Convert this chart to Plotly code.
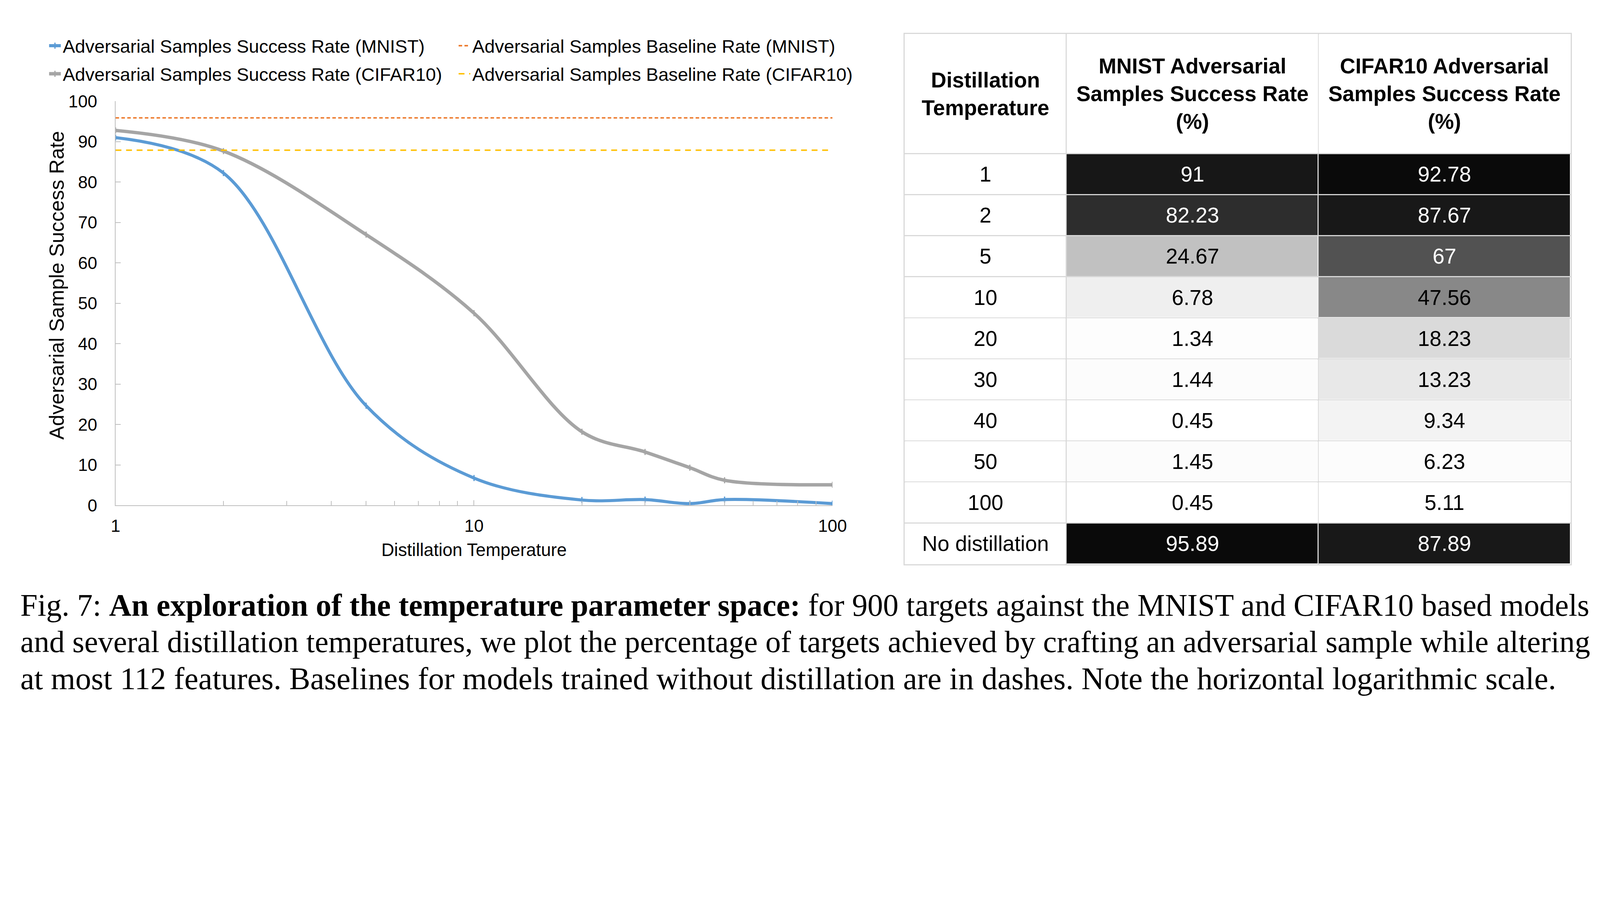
import plotly.graph_objects as go
import numpy as np

temperatures = [1, 2, 5, 10, 20, 30, 40, 50, 100]
mnist_rate = [91, 82.23, 24.67, 6.78, 1.34, 1.44, 0.45, 1.45, 0.45]
cifar_rate = [92.78, 87.67, 67, 47.56, 18.23, 13.23, 9.34, 6.23, 5.11]
mnist_baseline = 95.89
cifar_baseline = 87.89

series_names = [
    "Adversarial Samples Success Rate (MNIST)",
    "Adversarial Samples Baseline Rate (MNIST)",
    "Adversarial Samples Success Rate (CIFAR10)",
    "Adversarial Samples Baseline Rate (CIFAR10)",
]
table_header = [
    ["Distillation", "Temperature"],
    ["MNIST Adversarial", "Samples Success Rate", "(%)"],
    ["CIFAR10 Adversarial", "Samples Success Rate", "(%)"],
]
row_labels = [str(t) for t in temperatures] + ["No distillation"]

caption_lines = [
    "Fig. 7: <b>An exploration of the temperature parameter space:</b> for 900 targets against the MNIST and CIFAR10 based models",
    "and several distillation temperatures, we plot the percentage of targets achieved by crafting an adversarial sample while altering",
    "at most 112 features. Baselines for models trained without distillation are in dashes. Note the horizontal logarithmic scale.",
]

# the page is shot at ~1.263 device px per css px; positions below are
# measured on the screenshot and mapped back to css px of the figure
S = 1 / 1.263
FW, FH = 4120, 1820


def fx(r):
    return r * S - 18.6


def fy(r):
    return r * 0.8032 - 30.3


def xf(r):
    return fx(r) / FW


def yf(r):
    return 1 - fy(r) / FH


def fs(r):
    return round(r * S, 1)


BLUE, GREY, ORANGE, YELLOW = "#5B9BD5", "#A5A5A5", "#ED7D31", "#FFC000"
AXIS = "#BFBFBF"
GRID = "#D9D9D9"
SANS = "Arial, Liberation Sans, sans-serif"
SERIF = "Times New Roman, Liberation Serif, serif"

fig = go.Figure()

# line chart, one legend box per entry (2 x 2 grid like the original)
fig.add_trace(go.Scatter(
    x=temperatures, y=mnist_rate, mode="lines+markers", name=series_names[0],
    line=dict(color=BLUE, width=fs(10), shape="spline"),
    marker=dict(symbol="line-ns", size=fs(14), line=dict(color=BLUE, width=fs(4))),
    legend="legend", showlegend=True, hoverinfo="skip"))
fig.add_trace(go.Scatter(
    x=[temperatures[0], temperatures[-1]], y=[mnist_baseline] * 2, mode="lines",
    name=series_names[1], line=dict(color=ORANGE, width=fs(4.8), dash="9px,6px"),
    legend="legend2", hoverinfo="skip"))
fig.add_trace(go.Scatter(
    x=temperatures, y=cifar_rate, mode="lines+markers", name=series_names[2],
    line=dict(color=GREY, width=fs(11), shape="spline"),
    marker=dict(symbol="line-ns", size=fs(14), line=dict(color=GREY, width=fs(4))),
    legend="legend3", hoverinfo="skip"))
fig.add_trace(go.Scatter(
    x=[temperatures[0], temperatures[-1]], y=[cifar_baseline] * 2, mode="lines",
    name=series_names[3], line=dict(color=YELLOW, width=fs(4.8), dash="15px,12px"),
    legend="legend4", hoverinfo="skip"))

# table drawn as a grey-scale heatmap, shade normalised per column
mnist_col = mnist_rate + [mnist_baseline]
cifar_col = cifar_rate + [cifar_baseline]


def shade(vals):
    lo, hi = min(vals), max(vals)
    return [(v - lo) / (hi - lo) for v in vals]


z = [[0, 0, 0]] + [[0, a, b] for a, b in zip(shade(mnist_col), shade(cifar_col))]
text = [["<br>".join("<b>%s</b>" % s for s in h) for h in table_header]]
text += [[lab, f"{a:g}", f"{b:g}"] for lab, a, b in zip(row_labels, mnist_col, cifar_col)]

col_edges = np.cumsum([0, 529, 825, 825])
row_edges = np.cumsum([0, 392.5] + [134.45] * len(row_labels))

dark = 0.6
z_dark = [[v if v > dark else None for v in r] for r in z]
text_dark = [[t if v > dark else "" for t, v in zip(tr, zr)] for tr, zr in zip(text, z)]

scale = [[0, "#ffffff"], [1, "#0a0a0a"]]
for zz, tt, col in [(z, text, "black"), (z_dark, text_dark, "white")]:
    fig.add_trace(go.Heatmap(
        z=zz, x=col_edges, y=row_edges, text=tt, texttemplate="%{text}",
        textfont=dict(family=SANS, size=fs(69), color=col),
        colorscale=scale, zmin=0, zmax=1, showscale=False,
        xgap=3, ygap=3, xaxis="x2", yaxis="y2", hoverinfo="skip"))


def leg(text_x, row_y):
    return dict(
        x=(fx(text_x) - 41) / FW, y=yf(row_y), xanchor="left", yanchor="middle",
        font=dict(size=fs(59.5)), itemwidth=30, bgcolor="rgba(0,0,0,0)",
    )


fig.update_layout(
    width=FW, height=FH,
    margin=dict(l=0, r=0, t=0, b=0),
    paper_bgcolor="white", plot_bgcolor="white",
    font=dict(family=SANS, color="black", size=fs(57)),
    showlegend=True,
    xaxis=dict(
        type="log", range=[0, 2], domain=[xf(376), xf(2722)], anchor="y",
        showline=True, linecolor=AXIS, linewidth=2, showgrid=False, zeroline=False,
        ticks="inside", ticklen=fs(17), tickwidth=2, tickcolor=AXIS,
        tickvals=[1, 10, 100], ticktext=["1", "10", "100"],
        tickfont=dict(size=fs(56)), ticklabelstandoff=12,
        minor=dict(ticks="inside", ticklen=fs(15), tickwidth=1.5, tickcolor=AXIS,
                   tickvals=[2, 3, 4, 5, 6, 7, 8, 9, 20, 30, 40, 50, 60, 70, 80, 90]),
        title=dict(text="Distillation Temperature", font=dict(size=fs(57.5)), standoff=23),
    ),
    yaxis=dict(
        range=[0, 100], dtick=10, domain=[yf(1653), yf(328.5)], anchor="x",
        showline=True, linecolor=AXIS, linewidth=2, showgrid=False, zeroline=False,
        ticks="inside", ticklen=fs(17), tickwidth=2, tickcolor=AXIS,
        tickfont=dict(size=fs(56)), ticklabelstandoff=36,
    ),
    xaxis2=dict(
        range=[col_edges[0], col_edges[-1]], domain=[xf(2958), xf(5137)], anchor="y2",
        tickvals=col_edges, showticklabels=False, ticks="",
        showgrid=True, gridcolor=GRID, gridwidth=3, zeroline=False,
        showline=True, mirror=True, linecolor=GRID, linewidth=3,
    ),
    yaxis2=dict(
        range=[row_edges[-1], row_edges[0]], domain=[yf(1845), yf(108)], anchor="x2",
        tickvals=row_edges, showticklabels=False, ticks="",
        showgrid=True, gridcolor=GRID, gridwidth=3, zeroline=False,
        showline=True, mirror=True, linecolor=GRID, linewidth=3,
    ),
    legend=leg(204, 147),
    legend2=leg(1544, 147),
    legend3=leg(204, 239),
    legend4=leg(1544, 239),
)

# y axis title, placed like the original (a bit above the plot centre)
fig.add_annotation(
    text="Adversarial Sample Success Rate", xref="paper", yref="paper",
    x=xf(183), y=yf(931), xanchor="center", yanchor="middle", textangle=-90,
    showarrow=False, font=dict(family=SANS, size=fs(66), color="black"))

# caption under the figure (lines 1-2 are justified in the original)
caption_size = [100.3, 99.4, 101.8]
for i, line in enumerate(caption_lines):
    fig.add_annotation(
        text=line, xref="paper", yref="paper", x=xf(62), y=yf(1980 + 120 * i),
        xanchor="left", yanchor="middle", showarrow=False, align="left",
        font=dict(family=SERIF, size=fs(caption_size[i]), color="black"))

fig.write_html("out.html")
